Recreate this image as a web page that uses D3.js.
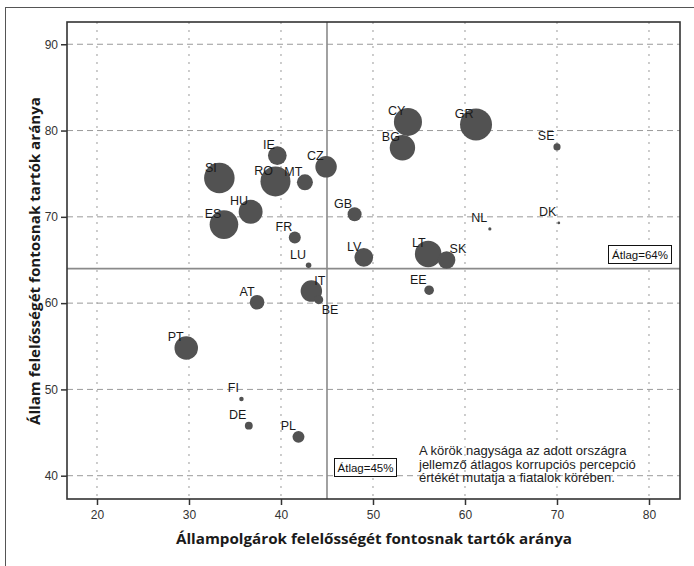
<!DOCTYPE html>
<html><head><meta charset="utf-8">
<script src="https://cdn.jsdelivr.net/npm/d3@7"></script>
<style>
html,body{margin:0;padding:0;background:#fff;}
svg{display:block;}
</style></head>
<body>
<svg id="chart" width="694" height="566"></svg>
<script>
// ---- data ----
const countries = ["SI","ES","HU","RO","IE","MT","CZ","FR","LU","GB","LV","CY","BG","GR","SE","NL","DK","LT","SK","EE","IT","BE","AT","PT","FI","DE","PL"];
const citizenShare = [33.3,33.8,36.7,39.4,39.6,42.6,44.9,41.5,43.0,48.0,49.0,53.8,53.2,61.2,70.0,62.7,70.2,56.0,58.0,56.1,43.3,44.1,37.4,29.7,35.7,36.5,41.9];
const stateShare   = [74.5,69.1,70.6,74.1,77.1,74.0,75.8,67.6,64.4,70.3,65.3,81.0,78.0,80.7,78.1,68.6,69.3,65.7,65.0,61.5,61.4,60.4,60.1,54.8,48.9,45.8,44.5];
const corruption   = [91,80,56,88,34,25,45,14,3,19,34,77,63,100,5,1,0.7,69,30,9,45,8,21,54,2,6,14];
const xTicks = [20,30,40,50,60,70,80];
const yTicks = [40,50,60,70,80,90];
const meanX = 45, meanY = 64;
const labelsRight = ["IT","SK"];
const labelsBelowRight = ["BE"];
const xTitle = "Állampolgárok felelősségét fontosnak tartók aránya";
const yTitle = "Állam felelősségét fontosnak tartók aránya";
const note = ["A körök nagysága az adott országra","jellemző átlagos korrupciós percepció","értékét mutatja a fiatalok körében."];

// ---- layout ----
const svg = d3.select("#chart");
const L = 67, R = 680, T = 22, B = 499;
const x = d3.scaleLinear().domain([16.74, 83.37]).range([L, R]);
const y = d3.scaleLinear().domain([37.3, 92.58]).range([B, T]);
const r = d3.scaleSqrt().domain([0, 100]).range([0, 16]);
const font = "'Liberation Sans', Arial, sans-serif";

// outer frame
svg.append("rect").attr("x",5.5).attr("y",7.5).attr("width",720).attr("height",600)
  .attr("fill","none").attr("stroke","#555").attr("stroke-width",1);

// grid
const g = svg.append("g");
g.selectAll(".hg").data(yTicks).join("line")
  .attr("x1",L).attr("x2",R).attr("y1",d=>y(d)).attr("y2",d=>y(d))
  .attr("stroke","#9a9a9a").attr("stroke-width",1).attr("stroke-dasharray","6,4");
g.selectAll(".vg").data(xTicks).join("line")
  .attr("y1",T).attr("y2",B).attr("x1",d=>x(d)).attr("x2",d=>x(d))
  .attr("stroke","#9a9a9a").attr("stroke-width",1).attr("stroke-dasharray","2,6");

// mean lines
svg.append("line").attr("x1",x(meanX)).attr("x2",x(meanX)).attr("y1",T).attr("y2",B)
  .attr("stroke","#8a8a8a").attr("stroke-width",1.6);
svg.append("line").attr("x1",L).attr("x2",R).attr("y1",y(meanY)).attr("y2",y(meanY))
  .attr("stroke","#8a8a8a").attr("stroke-width",1.6);

// axes
const xAxis = d3.axisBottom(x).tickValues(xTicks).tickSize(6).tickPadding(5);
const yAxis = d3.axisLeft(y).tickValues(yTicks).tickSize(6).tickPadding(3);
const gx = svg.append("g").attr("transform",`translate(0,${B})`).call(xAxis);
const gy = svg.append("g").attr("transform",`translate(${L},0)`).call(yAxis);
[gx,gy].forEach(a=>{
  a.select(".domain").remove();
  a.selectAll("line").attr("stroke","#333").attr("stroke-width",1.5);
  a.selectAll("text").attr("font-family",font).attr("font-size",12).attr("fill","#333");
});

// plot border
svg.append("rect").attr("x",L).attr("y",T).attr("width",R-L).attr("height",B-T)
  .attr("fill","none").attr("stroke","#333").attr("stroke-width",1.6);

// data
const data = countries.map((c,i)=>({c, x:citizenShare[i], y:stateShare[i], s:corruption[i]}));
svg.append("g").selectAll("circle").data(data.slice().sort((a,b)=>b.s-a.s)).join("circle")
  .attr("cx",d=>x(d.x)).attr("cy",d=>y(d.y)).attr("r",d=>Math.max(1.3,r(d.s)))
  .attr("fill","#525252");

svg.append("g").selectAll("text").data(data).join("text")
  .attr("font-family",font).attr("font-size",12.5).attr("fill","#1a1a1a")
  .attr("x",d=> labelsRight.includes(d.c)||labelsBelowRight.includes(d.c) ? x(d.x)+3 : x(d.x)-2.5)
  .attr("y",d=> labelsBelowRight.includes(d.c) ? y(d.y)+14 : y(d.y)-6.5)
  .attr("text-anchor",d=> labelsRight.includes(d.c)||labelsBelowRight.includes(d.c) ? "start":"end")
  .text(d=>d.c);

// mean annotation boxes
function box(x0,y0,w,h,t){
  svg.append("rect").attr("x",x0+0.5).attr("y",y0+0.5).attr("width",w).attr("height",h)
    .attr("fill","#fff").attr("stroke","#111").attr("stroke-width",1);
  svg.append("text").attr("x",x0+w/2+0.5).attr("y",y0+h/2+4.5).attr("text-anchor","middle")
    .attr("font-family",font).attr("font-size",11.5).attr("fill","#111").text(t);
}
box(608,245,63,18,"Átlag="+meanY+"%");
box(334,458,62,18,"Átlag="+meanX+"%");

// note
svg.append("g").selectAll("text").data(note).join("text")
  .attr("x",419).attr("y",(d,i)=>455+i*13.5)
  .attr("font-family",font).attr("font-size",13).attr("fill","#222").text(d=>d);

// axis titles
svg.append("text").attr("x",374).attr("y",544).attr("text-anchor","middle")
  .attr("font-family","'Open Sans', sans-serif").attr("font-weight","bold").attr("font-size",15)
  .attr("fill","#1a1a1a").attr("textLength",396).attr("lengthAdjust","spacingAndGlyphs").text(xTitle);
svg.append("text").attr("transform","translate(40,261) rotate(-90)").attr("text-anchor","middle")
  .attr("font-family","'Open Sans', sans-serif").attr("font-weight","bold").attr("font-size",15)
  .attr("fill","#1a1a1a").attr("textLength",328).attr("lengthAdjust","spacingAndGlyphs").text(yTitle);
</script>
</body></html>
